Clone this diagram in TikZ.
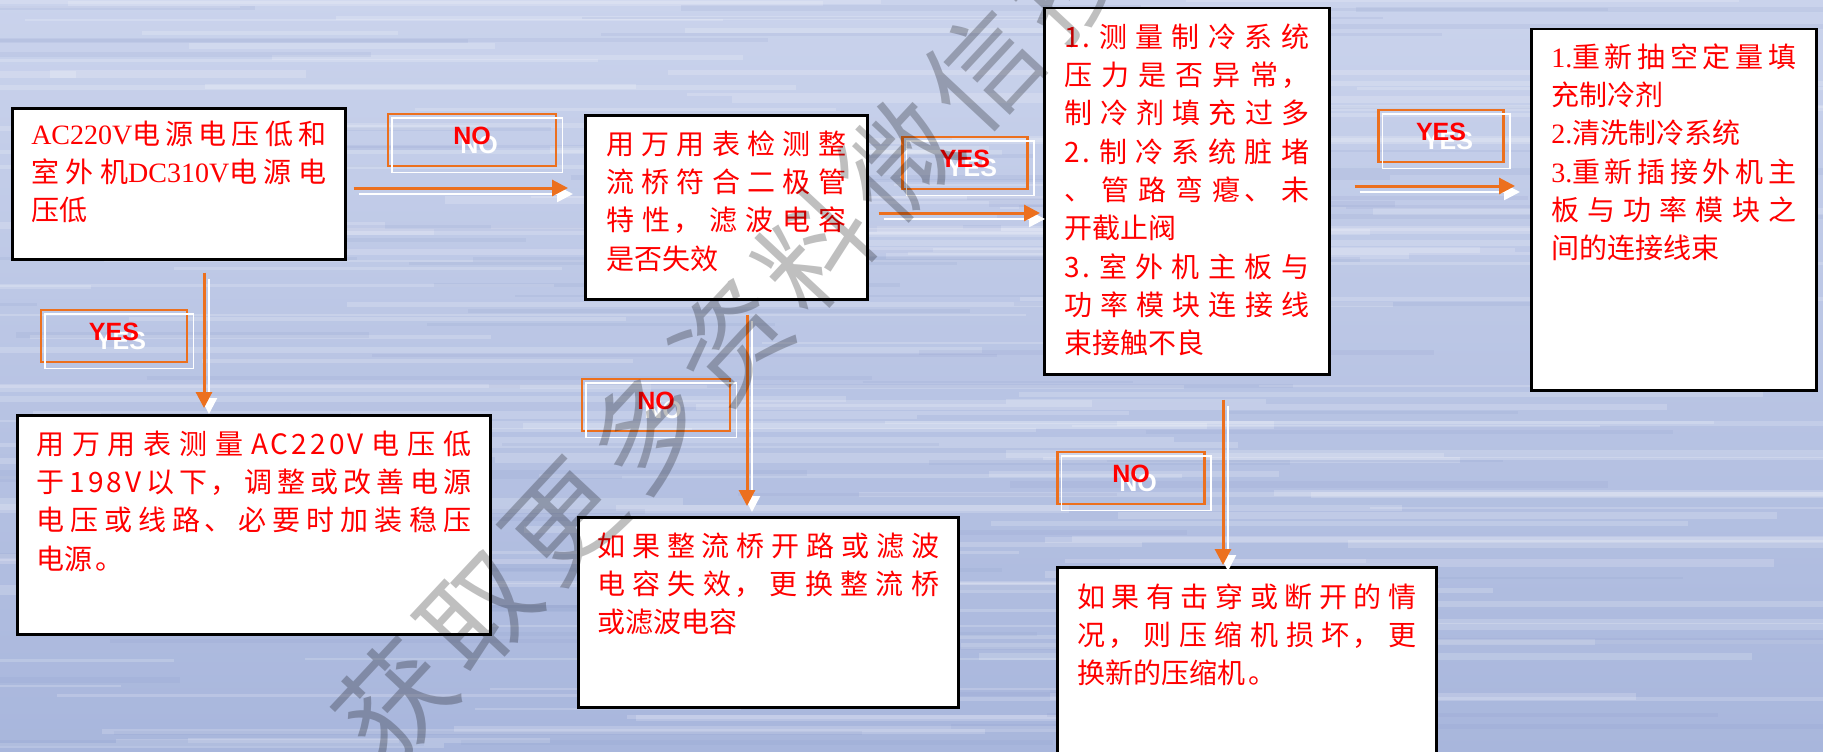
\documentclass[tikz,border=0pt]{standalone}
\usepackage{fontspec}
\newfontfamily\cjk{Noto Sans CJK SC}[LetterSpace=11]
\newfontfamily\serifnum{Liberation Serif}
\newfontfamily\tagfont{Liberation Sans}
\newfontfamily\markfont{Noto Sans CJK SC}[LetterSpace=10]
\XeTeXlinebreaklocale "zh"
\XeTeXlinebreakskip=0pt plus 20pt
\usetikzlibrary{arrows.meta}

\definecolor{lineorange}{RGB}{236,112,30}
\definecolor{boxred}{RGB}{255,0,0}
\definecolor{bgtop}{RGB}{202,211,236}
\definecolor{bgbottom}{RGB}{168,182,220}
\definecolor{streakdark}{RGB}{140,156,202}

% red word with a white copy a little below and right of it
\newcommand{\tagword}[1]{\rlap{\hspace*{7pt}\raisebox{-9pt}{\color{white}#1}}#1}
% end a paragraph with its last line stretched to full width
\newcommand{\fullend}{{\parfillskip=0pt\par}}

\tikzset{
  textbox/.style={draw=black, line width=2.5pt, fill=white, anchor=north west,
    inner ysep=0pt, align=justify, text=boxred, font=\cjk\fontsize{28}{38.3}\selectfont},
  tagbox/.style={draw=lineorange, line width=2.5pt, minimum width=#1, minimum height=52pt,
    inner sep=0pt, text=boxred, text height=18pt, text depth=10pt,
    font=\tagfont\bfseries\fontsize{25}{25}\selectfont},
  tagshade/.style={draw=white, line width=1.5pt},
  flow/.style={draw=lineorange, line width=3pt, -{Triangle[length=16pt,width=16pt]}},
  flowshade/.style={draw=white, line width=2.5pt, -{Triangle[length=16pt,width=16pt]},
    transform canvas={shift={(5,6)}}},
  watermark/.style={text=black, text opacity=0.25, rotate=47, inner sep=0pt,
    font=\markfont\fontsize{112}{112}\selectfont}
}

\begin{document}
\begin{tikzpicture}[x=1pt, y=-1pt]
    \useasboundingbox (0,0) rectangle (1823,752);
    \clip (0,0) rectangle (1823,752);

    % background with streaks
    \shade[top color=bgtop, bottom color=bgbottom] (0,0) rectangle (1823,752);
    \pgfmathsetseed{11}
    \foreach \i in {1,...,150} {
      \pgfmathsetmacro{\sy}{rnd*752}
      \pgfmathsetmacro{\sx}{rnd*1700-300}
      \pgfmathsetmacro{\sl}{250+rnd*900}
      \pgfmathsetmacro{\sw}{2+rnd*6}
      \draw[white, opacity=0.18, line width=\sw] (\sx,\sy) -- ++(\sl,0);
    }
    \foreach \i in {1,...,80} {
      \pgfmathsetmacro{\sy}{rnd*752}
      \pgfmathsetmacro{\sx}{rnd*1700-300}
      \pgfmathsetmacro{\sl}{200+rnd*700}
      \pgfmathsetmacro{\sw}{2+rnd*5}
      \draw[streakdark, opacity=0.15, line width=\sw] (\sx,\sy) -- ++(\sl,0);
    }

    \node[textbox, inner xsep=19pt, text width=295pt, text height=36pt, text depth=115pt] (low) at (11,107)
      {{\serifnum AC220V}电源电压低和\linebreak 室外机{\serifnum DC310V}电源电\linebreak 压低};
    \node[textbox, inner xsep=21pt, text width=240pt, text height=39pt, text depth=145pt] (check) at (584,114)
      {用万用表检测整\linebreak 流桥符合二极管\linebreak 特性，滤波电容\linebreak 是否失效};
    \node[textbox, inner xsep=20pt, text width=245pt, text height=39pt, text depth=327pt] (cause) at (1043,7)
      {1.测量制冷系统\linebreak 压力是否异常，\linebreak 制冷剂填充过多\fullend
       2.制冷系统脏堵\linebreak 、管路弯瘪、未\linebreak 开截止阀\\
       3.室外机主板与\linebreak 功率模块连接线\linebreak 束接触不良};
    \node[textbox, inner xsep=20pt, text width=245pt, text height=38pt, text depth=323pt] (fix) at (1530,28)
      {{\serifnum 1.}重新抽空定量填\linebreak 充制冷剂\\{\serifnum 2.}清洗制冷系统\\
       {\serifnum 3.}重新插接外机主\linebreak 板与功率模块之\linebreak 间的连接线束};
    \node[textbox, inner xsep=19pt, text width=435pt, text height=39pt, text depth=180pt] (mains) at (16,414)
      {用万用表测量AC220V电压低\linebreak 于198V以下，调整或改善电源\linebreak 电压或线路、必要时加装稳压\linebreak 电源。};
    \node[textbox, inner xsep=19pt, text width=342pt, text height=39pt, text depth=151pt] (bridge) at (577,516)
      {如果整流桥开路或滤波\linebreak 电容失效，更换整流桥\linebreak 或滤波电容};
    \node[textbox, inner xsep=20pt, text width=339pt, text height=40pt, text depth=164pt] (comp) at (1056,566)
      {如果有击穿或断开的情\linebreak 况，则压缩机损坏，更\linebreak 换新的压缩机。};

    \node[tagbox=168pt] (no1) at (472,140) {\tagword{NO}};
    \node[tagbox=146pt] (yes1) at (114,336) {\tagword{YES}};
    \node[tagbox=125pt] (yes2) at (965,163) {\tagword{YES}};
    \node[tagbox=148pt] (no2) at (656,405) {\tagword{NO}};
    \node[tagbox=147pt] (no3) at (1131,478) {\tagword{NO}};
    \node[tagbox=125pt] (yes3) at (1441,136) {\tagword{YES}};
    \foreach \t in {no1,yes1,yes2,no2,no3,yes3}
      \draw[tagshade] ([shift={(5,5)}]\t.north west) rectangle ([shift={(5,5)}]\t.south east);

    \draw[flowshade, shorten <=7pt, shorten >=16pt] (low.east |- 0,188) -- (check.west |- 0,188);
    \draw[flow, shorten <=7pt, shorten >=16pt] (low.east |- 0,188) -- (check.west |- 0,188);
    \draw[flowshade, shorten <=12pt, shorten >=6pt] (low.south -| 204,0) -- (mains.north -| 204,0);
    \draw[flow, shorten <=12pt, shorten >=6pt] (low.south -| 204,0) -- (mains.north -| 204,0);
    \draw[flowshade, shorten <=10pt, shorten >=3pt] (check.east |- 0,213) -- (cause.west |- 0,213);
    \draw[flow, shorten <=10pt, shorten >=3pt] (check.east |- 0,213) -- (cause.west |- 0,213);
    \draw[flowshade, shorten <=14pt, shorten >=10pt] (check.south -| 747,0) -- (bridge.north -| 747,0);
    \draw[flow, shorten <=14pt, shorten >=10pt] (check.south -| 747,0) -- (bridge.north -| 747,0);
    \draw[flowshade, shorten <=24pt, shorten >=1pt] (cause.south -| 1223,0) -- (comp.north -| 1223,0);
    \draw[flow, shorten <=24pt, shorten >=1pt] (cause.south -| 1223,0) -- (comp.north -| 1223,0);
    \draw[flowshade, shorten <=24pt, shorten >=15pt] (cause.east |- 0,186) -- (fix.west |- 0,186);
    \draw[flow, shorten <=24pt, shorten >=15pt] (cause.east |- 0,186) -- (fix.west |- 0,186);

    \node[watermark] (mark) at (731,340) {获取更多资料微信搜};

\end{tikzpicture}
\end{document}
